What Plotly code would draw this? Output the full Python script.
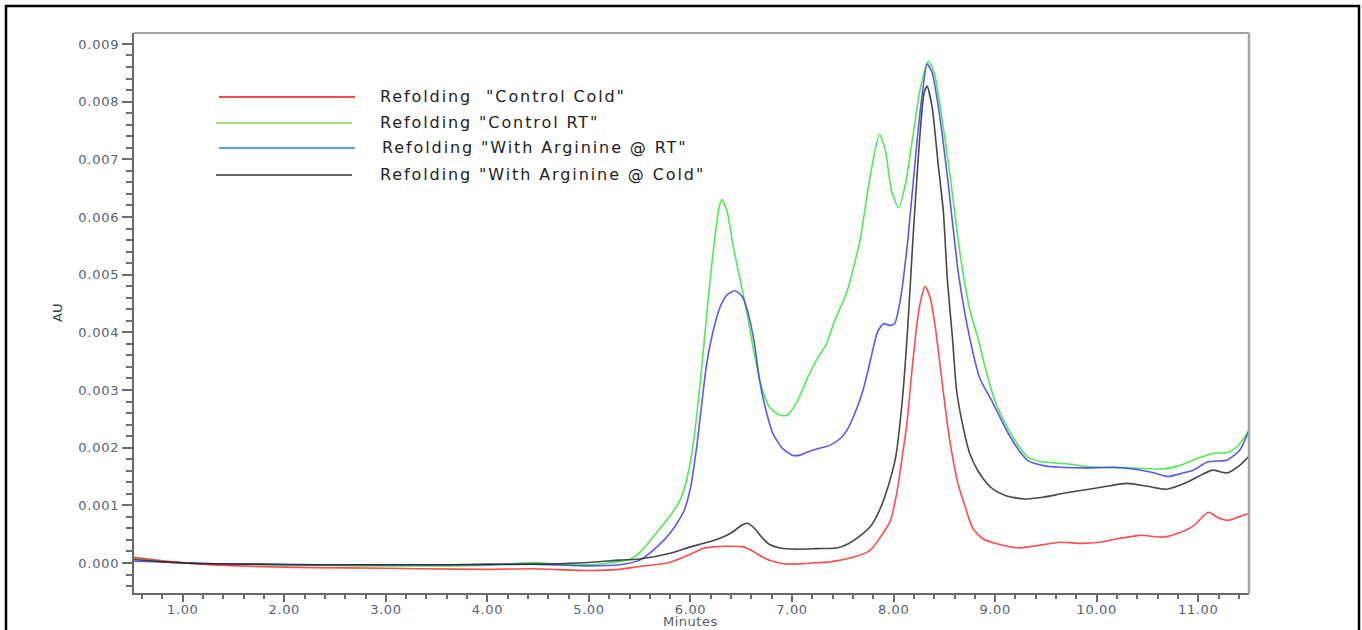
import plotly.graph_objects as go

# ---------------- data (AU values in units of 1e-3) ----------------
red_x = [0.52, 0.8, 1.2, 1.7, 2.3, 3.0, 3.33, 4.0, 4.45, 5.0, 5.3, 5.5, 5.77, 5.9, 6.02, 6.12, 6.22, 6.4, 6.52,
         6.62, 6.71, 6.85, 7.0, 7.2, 7.37, 7.6, 7.77, 7.87, 7.97, 8.04, 8.09, 8.13, 8.19, 8.25, 8.31, 8.36, 8.41,
         8.46, 8.53, 8.58, 8.63, 8.7, 8.78, 8.88, 8.98, 9.22, 9.4, 9.64, 9.85, 10.03, 10.2, 10.43, 10.66, 10.82,
         10.95, 11.1, 11.2, 11.3, 11.4, 11.5]
red_y = [0.10, 0.04, -0.02, -0.06, -0.08, -0.09, -0.10, -0.11, -0.10, -0.13, -0.11, -0.06, 0.0, 0.08, 0.17, 0.25,
         0.28, 0.29, 0.28, 0.20, 0.10, 0.01, -0.02, 0.0, 0.02, 0.10, 0.22, 0.45, 0.74, 1.3, 1.9, 2.4, 3.5, 4.4,
         4.8, 4.6, 4.1, 3.4, 2.4, 1.85, 1.4, 1.0, 0.6, 0.42, 0.35, 0.26, 0.30, 0.36, 0.34, 0.36, 0.42, 0.48, 0.45,
         0.53, 0.64, 0.88, 0.78, 0.74, 0.80, 0.86]

green_x = [0.52, 0.8, 1.2, 1.7, 2.3, 3.0, 3.6, 4.0, 4.45, 4.7, 5.0, 5.2, 5.4, 5.5, 5.6, 5.7, 5.8, 5.9, 5.97,
           6.03, 6.1, 6.17, 6.23, 6.28, 6.31, 6.36, 6.42, 6.49, 6.56, 6.62, 6.7, 6.78, 6.87, 6.95, 7.05, 7.15,
           7.25, 7.34, 7.42, 7.54, 7.67, 7.75, 7.8, 7.86, 7.92, 7.98, 8.05, 8.12, 8.19, 8.26, 8.34, 8.4, 8.46,
           8.55, 8.66, 8.75, 8.83, 8.9, 9.0, 9.15, 9.32, 9.47, 9.7, 9.97, 10.3, 10.63, 10.8, 11.0, 11.15, 11.3,
           11.4, 11.5]
green_y = [0.09, 0.03, -0.01, -0.03, -0.04, -0.05, -0.05, -0.04, 0.01, -0.02, -0.03, 0.0, 0.06, 0.18, 0.38, 0.6,
           0.82, 1.1, 1.5, 2.1, 3.2, 4.5, 5.5, 6.15, 6.3, 6.1, 5.5, 4.9, 4.3, 3.7, 3.05, 2.7, 2.57, 2.56, 2.8,
           3.2, 3.55, 3.8, 4.2, 4.7, 5.6, 6.5, 7.0, 7.44, 7.15, 6.45, 6.16, 6.6, 7.4, 8.2, 8.70, 8.5, 7.9, 6.8,
           5.3, 4.4, 3.9, 3.4, 2.8, 2.25, 1.84, 1.75, 1.72, 1.66, 1.65, 1.63, 1.68, 1.82, 1.90, 1.92, 2.05, 2.3]

blue_x = [0.52, 0.8, 1.2, 1.7, 2.3, 3.0, 3.6, 4.0, 4.45, 5.0, 5.3, 5.5, 5.67, 5.8, 5.93, 6.0, 6.06, 6.16, 6.22,
          6.29, 6.36, 6.44, 6.51, 6.57, 6.63, 6.68, 6.75, 6.81, 6.9, 7.0, 7.08, 7.15, 7.25, 7.37, 7.47, 7.54,
          7.62, 7.7, 7.77, 7.84, 7.9, 7.96, 8.01, 8.07, 8.14, 8.23, 8.28, 8.33, 8.38, 8.45, 8.53, 8.64, 8.75,
          8.85, 8.98, 9.15, 9.32, 9.5, 9.64, 9.9, 10.16, 10.36, 10.55, 10.7, 10.85, 10.95, 11.09, 11.2, 11.28,
          11.41, 11.5]
blue_y = [0.03, 0.02, -0.01, -0.02, -0.03, -0.03, -0.03, -0.03, -0.02, -0.05, -0.03, 0.05, 0.28, 0.52, 0.88, 1.3,
          2.0, 3.46, 4.0, 4.43, 4.65, 4.72, 4.62, 4.32, 3.8, 3.17, 2.6, 2.25, 2.0, 1.87, 1.87, 1.92, 1.98, 2.04,
          2.15, 2.3, 2.6, 3.0, 3.5, 4.0, 4.15, 4.12, 4.15, 4.6, 5.6, 7.3, 8.1, 8.65, 8.5, 7.8, 6.7, 5.0, 3.9,
          3.2, 2.77, 2.18, 1.78, 1.68, 1.66, 1.65, 1.66, 1.63, 1.57, 1.50, 1.56, 1.61, 1.75, 1.77, 1.78, 1.96, 2.3]

black_x = [0.52, 0.8, 1.2, 1.7, 2.3, 3.0, 3.6, 4.0, 4.5, 5.0, 5.3, 5.5, 5.8, 6.0, 6.15, 6.29, 6.4, 6.5, 6.56,
           6.62, 6.7, 6.78, 6.88, 7.05, 7.25, 7.44, 7.55, 7.67, 7.78, 7.87, 7.95, 8.02, 8.09, 8.14, 8.19, 8.25,
           8.3, 8.33, 8.38, 8.44, 8.49, 8.53, 8.58, 8.62, 8.68, 8.75, 8.83, 8.92, 8.98, 9.1, 9.28, 9.47, 9.65,
           9.81, 10.0, 10.3, 10.5, 10.69, 10.89, 11.0, 11.14, 11.28, 11.4, 11.5]
black_y = [0.06, 0.02, -0.01, -0.02, -0.03, -0.03, -0.03, -0.02, -0.02, 0.01, 0.05, 0.07, 0.17, 0.28, 0.35, 0.43,
           0.52, 0.65, 0.69, 0.62, 0.45, 0.32, 0.26, 0.24, 0.25, 0.26, 0.33, 0.47, 0.65, 0.95, 1.35, 1.83, 2.9,
           4.1, 5.6, 7.2, 8.15, 8.27, 7.9, 6.9, 6.1, 4.9, 3.9, 3.0, 2.4, 1.9, 1.6, 1.38, 1.28, 1.17, 1.11, 1.14,
           1.2, 1.25, 1.3, 1.38, 1.33, 1.28, 1.40, 1.50, 1.61, 1.56, 1.68, 1.85]

legend_labels = ["Refolding  \"Control Cold\"", "Refolding \"Control RT\"",
                 "Refolding \"With Arginine @ RT\"", "Refolding \"With Arginine @ Cold\""]

series = [
    (legend_labels[0], red_x, red_y, "rgba(255,45,45,0.85)", "#e01212"),
    (legend_labels[1], green_x, green_y, "rgba(50,230,50,0.85)", "#92c45a"),
    (legend_labels[2], blue_x, blue_y, "rgba(60,60,240,0.85)", "#2a82d6"),
    (legend_labels[3], black_x, black_y, "rgba(40,40,40,0.85)", "#333333"),
]

x_ticks = [1, 2, 3, 4, 5, 6, 7, 8, 9, 10, 11]
y_ticks = [0.000, 0.001, 0.002, 0.003, 0.004, 0.005, 0.006, 0.007, 0.008, 0.009]

# ---------------- geometry helpers ----------------
W, H = 1362, 630
L, R, T, B = 134, 1249, 33, 593
PW, PH = R - L, B - T


def px(x):
    return (x - L) / PW


def py(y):
    return (B - y) / PH


def spaced(s, sp):
    return f"<span style='letter-spacing:{sp}px'>{s}</span>"


fig = go.Figure()
draw_order = [1, 2, 0, 3]
for i in draw_order:
    name, xs, ys, col, _ = series[i]
    fig.add_trace(go.Scatter(
        x=xs, y=[v / 1000 for v in ys], mode="lines", name=name,
        line=dict(color=col, width=1.6, shape="spline", smoothing=0.6),
        showlegend=False, hoverinfo="skip"))

tick_font = dict(family="DejaVu Sans", size=13, color="#586075")
axis_col = "#6a6a6a"

fig.update_xaxes(
    range=[0.52, 11.5], tickvals=x_ticks, ticktext=[spaced(f"{v:.2f}", 0.6) for v in x_ticks],
    ticks="outside", ticklen=7, tickwidth=1.5, tickcolor=axis_col, ticklabelstandoff=-4,
    minor=dict(dtick=0.2, tick0=0, ticks="outside", ticklen=4, tickwidth=1.5, tickcolor=axis_col, showgrid=False),
    showline=True, linecolor=axis_col, linewidth=2, showgrid=False, zeroline=False,
    tickfont=tick_font)
fig.update_yaxes(
    range=[-0.00052, 0.00919], tickvals=y_ticks, ticktext=[spaced(f"{v:.3f}", 0.8) for v in y_ticks],
    ticks="outside", ticklen=10, tickwidth=1.5, tickcolor=axis_col,
    minor=dict(dtick=0.0002, tick0=0, ticks="outside", ticklen=6, tickwidth=1.5, tickcolor=axis_col, showgrid=False),
    showline=True, linecolor=axis_col, linewidth=2, showgrid=False, zeroline=False,
    tickfont=tick_font)

shapes = []
# top and right frame lines of the plot area
shapes.append(dict(type="line", xref="paper", yref="paper", x0=0, x1=1, y0=1, y1=1,
                   line=dict(color="#a4a4a4", width=2)))
shapes.append(dict(type="line", xref="paper", yref="paper", x0=1, x1=1, y0=0, y1=1,
                   line=dict(color="#a4a4a4", width=2.5)))
# outer black border
shapes.append(dict(type="rect", xref="paper", yref="paper", x0=px(6), x1=px(1359), y0=py(660), y1=py(6),
                   line=dict(color="black", width=2.5), layer="above"))

annotations = []
leg_y = [97, 123, 148, 175]
leg_x0 = [219, 216, 219, 216]
leg_x1 = [355, 352, 355, 352]
leg_tx = [378, 378, 380, 378]
for i, (name, _, _, _, lcol) in enumerate(series):
    shapes.append(dict(type="line", xref="paper", yref="paper", x0=px(leg_x0[i]), x1=px(leg_x1[i]),
                       y0=py(leg_y[i]), y1=py(leg_y[i]), line=dict(color=lcol, width=1.5)))
    annotations.append(dict(xref="paper", yref="paper", x=px(leg_tx[i]), y=py(leg_y[i] - 1),
                            xanchor="left", yanchor="middle", showarrow=False, text=spaced(name, 1.9),
                            font=dict(family="DejaVu Sans", size=16, color="#222222")))

annotations.append(dict(xref="paper", yref="paper", x=px(57), y=py(313), text="AU", textangle=-90,
                        showarrow=False, xanchor="center", yanchor="middle",
                        font=dict(family="DejaVu Sans", size=13, color="#444444")))
annotations.append(dict(xref="paper", yref="paper", x=px(690), y=py(621), text=spaced("Minutes", 0.5),
                        showarrow=False, xanchor="center", yanchor="middle",
                        font=dict(family="DejaVu Sans", size=13, color="#555a6a")))

fig.update_layout(
    width=W, height=H, margin=dict(l=L, r=W - R, t=T, b=H - B),
    paper_bgcolor="white", plot_bgcolor="white",
    shapes=shapes, annotations=annotations, showlegend=False)

fig.write_html("out.html")
